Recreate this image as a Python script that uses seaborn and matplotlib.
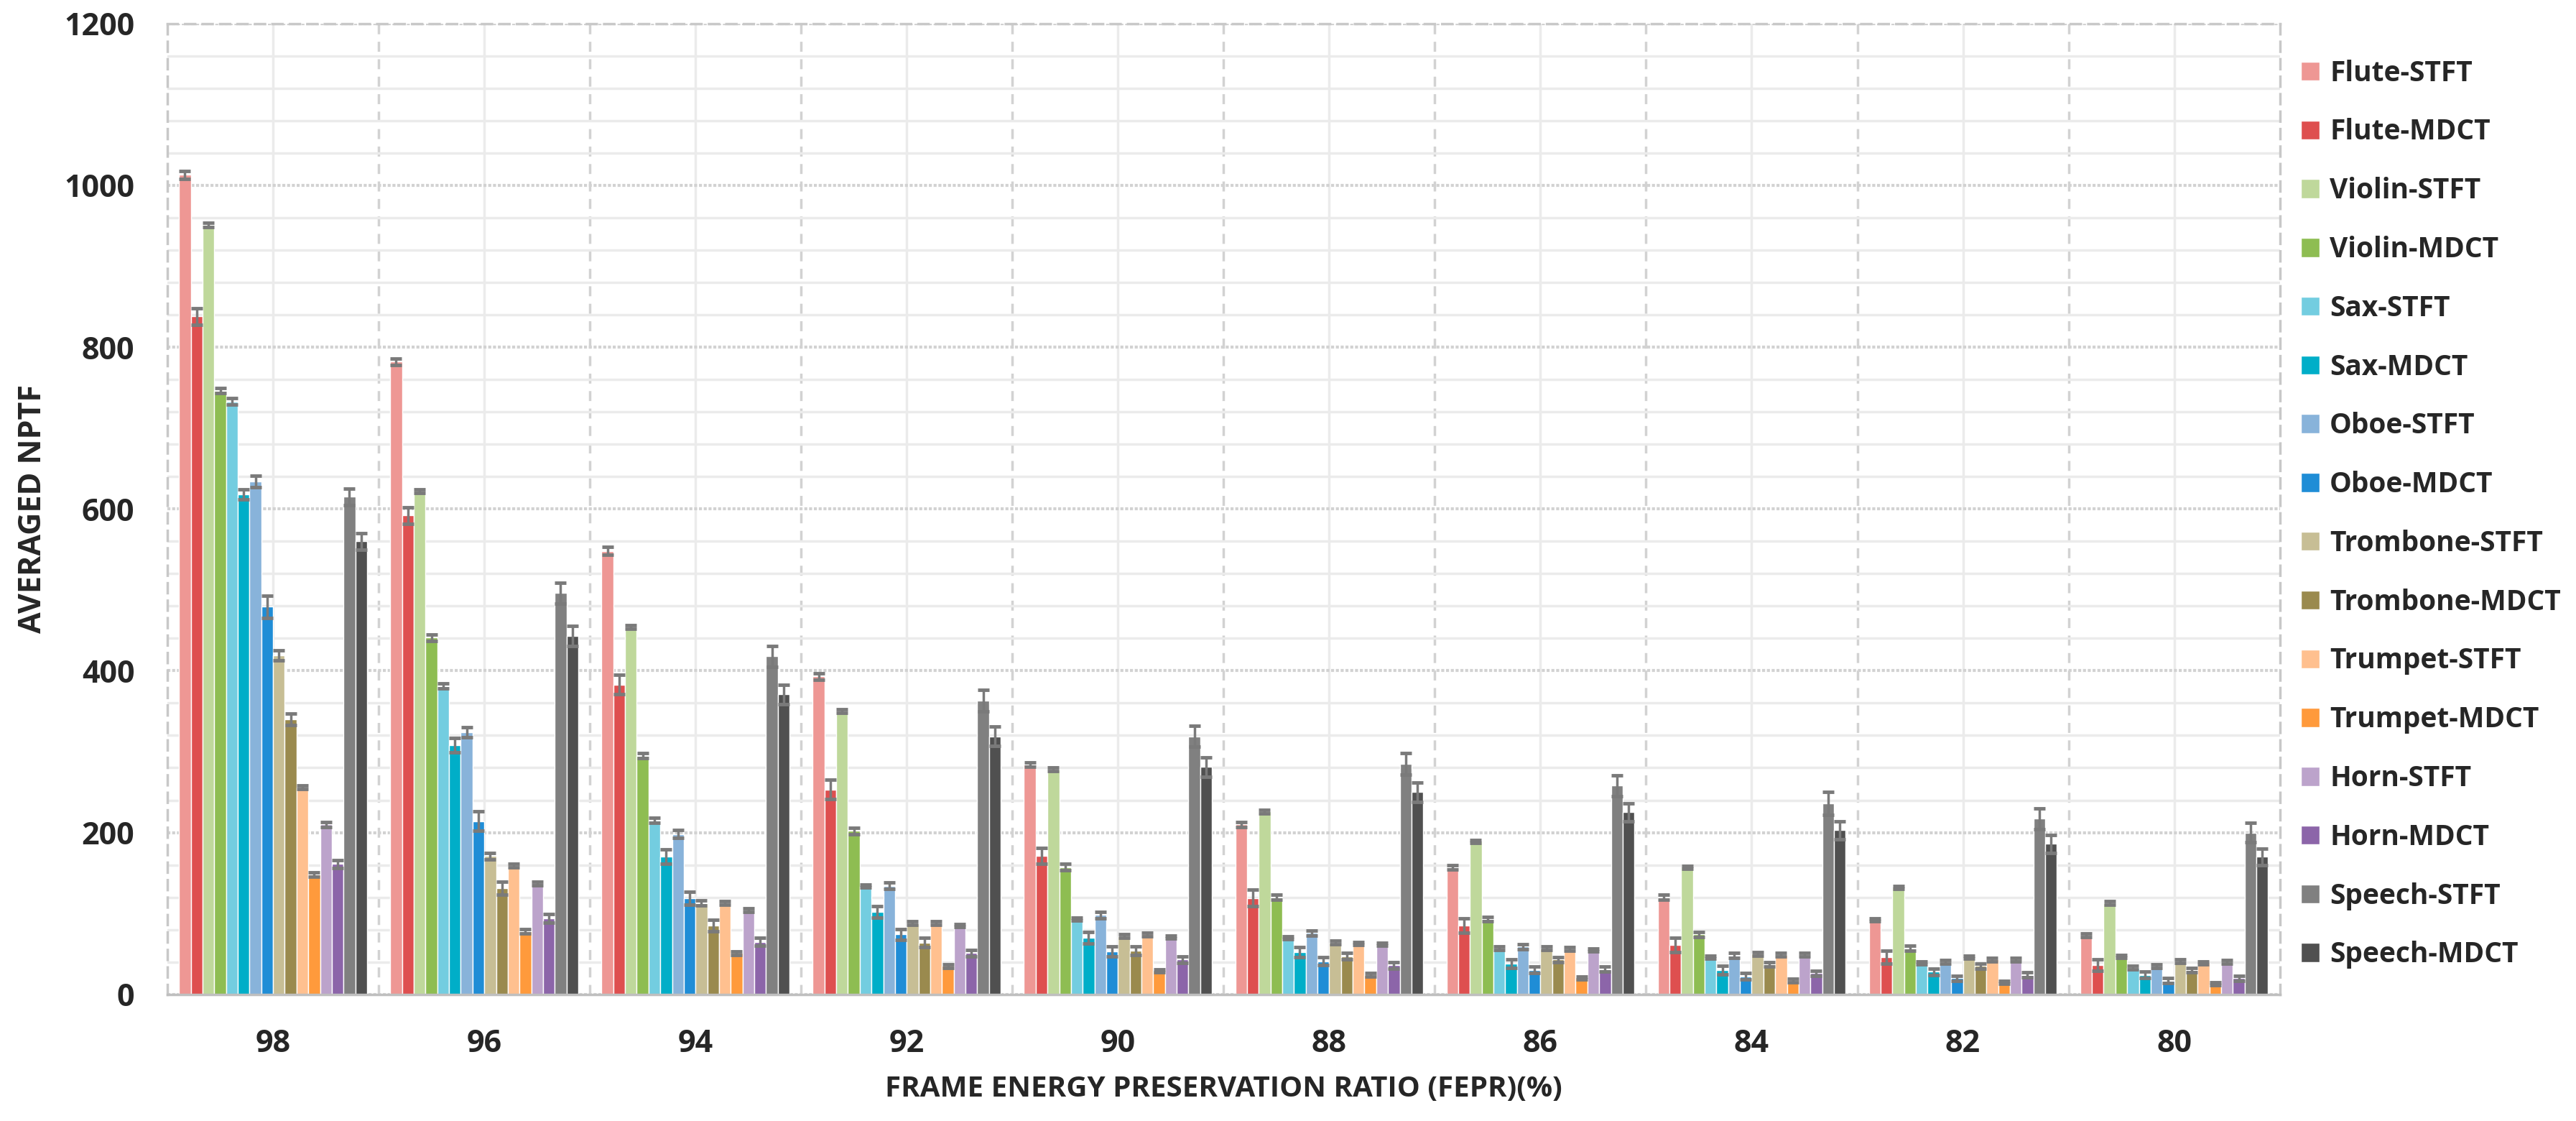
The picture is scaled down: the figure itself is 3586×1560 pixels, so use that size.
import pandas as pd
import seaborn as sns
import matplotlib.pyplot as plt
from matplotlib.ticker import MultipleLocator

# FEPR groups (x axis)
fepr = ['98', '96', '94', '92', '90', '88', '86', '84', '82', '80']

series = ['Flute-STFT', 'Flute-MDCT', 'Violin-STFT', 'Violin-MDCT',
          'Sax-STFT', 'Sax-MDCT', 'Oboe-STFT', 'Oboe-MDCT',
          'Trombone-STFT', 'Trombone-MDCT', 'Trumpet-STFT', 'Trumpet-MDCT',
          'Horn-STFT', 'Horn-MDCT', 'Speech-STFT', 'Speech-MDCT']

colors = ['#EE9794', '#DE4F4F', '#BFD89B', '#8EBD52',
          '#73CDE0', '#00AEC8', '#88B3DA', '#1F8DD6',
          '#C7BE95', '#9A8A4E', '#FFC08F', '#FF9A3C',
          '#BCA3CB', '#8C65A9', '#808080', '#505050']

# averaged NPTF per series
flute_stft = [1013, 782, 548, 393, 284, 210, 157, 120, 92, 73]
flute_mdct = [838, 592, 383, 253, 171, 119, 85, 61, 46, 36]
violin_stft = [951, 622, 454, 350, 278, 226, 189, 157, 132, 113]
violin_mdct = [746, 441, 295, 202, 157, 120, 93, 74, 57, 47]
sax_stft = [733, 381, 215, 134, 93, 70, 57, 46, 39, 33]
sax_mdct = [618, 308, 170, 102, 70, 52, 38, 30, 28, 24]
oboe_stft = [634, 324, 198, 134, 98, 76, 59, 48, 40, 35]
oboe_mdct = [479, 214, 119, 74, 53, 41, 30, 22, 20, 17]
trombone_stft = [419, 171, 113, 88, 72, 64, 57, 50, 46, 41]
trombone_mdct = [340, 131, 85, 64, 54, 47, 43, 37, 35, 30]
trumpet_stft = [256, 159, 113, 88, 74, 63, 56, 49, 43, 39]
trumpet_mdct = [148, 78, 51, 35, 29, 24, 20, 17, 15, 13]
horn_stft = [210, 137, 104, 85, 71, 62, 55, 49, 43, 40]
horn_mdct = [161, 94, 65, 51, 43, 36, 31, 26, 24, 20]
speech_stft = [615, 496, 418, 363, 319, 285, 258, 236, 217, 200]
speech_mdct = [560, 443, 371, 319, 281, 250, 225, 203, 186, 170]

# error bar half widths
err_flute_stft = [5, 4, 5, 4, 3, 3, 3, 3, 2, 2]
err_flute_mdct = [10, 10, 12, 12, 10, 10, 9, 9, 8, 7]
err_violin_stft = [3, 2, 2, 2, 2, 2, 2, 2, 2, 2]
err_violin_mdct = [3, 4, 3, 4, 4, 3, 3, 3, 3, 2]
err_sax_stft = [4, 3, 3, 2, 2, 2, 2, 2, 2, 2]
err_sax_mdct = [6, 9, 9, 7, 7, 6, 5, 5, 4, 4]
err_oboe_stft = [7, 6, 5, 4, 4, 3, 3, 3, 2, 2]
err_oboe_mdct = [14, 12, 8, 7, 6, 5, 4, 4, 3, 3]
err_trombone_stft = [6, 4, 3, 2, 2, 2, 2, 2, 2, 2]
err_trombone_mdct = [7, 8, 7, 6, 5, 4, 3, 3, 3, 3]
err_trumpet_stft = [2, 2, 2, 2, 2, 2, 2, 2, 2, 2]
err_trumpet_mdct = [3, 3, 2, 2, 2, 2, 2, 2, 2, 2]
err_horn_stft = [3, 2, 2, 2, 2, 2, 2, 2, 2, 2]
err_horn_mdct = [5, 5, 5, 4, 4, 4, 3, 3, 3, 3]
err_speech_stft = [10, 13, 13, 13, 13, 13, 13, 14, 13, 12]
err_speech_mdct = [10, 12, 12, 12, 12, 12, 11, 11, 11, 10]

values = [flute_stft, flute_mdct, violin_stft, violin_mdct, sax_stft, sax_mdct,
          oboe_stft, oboe_mdct, trombone_stft, trombone_mdct, trumpet_stft,
          trumpet_mdct, horn_stft, horn_mdct, speech_stft, speech_mdct]
errors = [err_flute_stft, err_flute_mdct, err_violin_stft, err_violin_mdct,
          err_sax_stft, err_sax_mdct, err_oboe_stft, err_oboe_mdct,
          err_trombone_stft, err_trombone_mdct, err_trumpet_stft,
          err_trumpet_mdct, err_horn_stft, err_horn_mdct, err_speech_stft,
          err_speech_mdct]

rows = []
for name, vals, errs in zip(series, values, errors):
    for g, v, e in zip(fepr, vals, errs):
        rows.append({'FEPR': g, 'Series': name, 'NPTF': v, 'err': e})
df = pd.DataFrame(rows)

sns.set_style('white')
plt.rcParams['font.family'] = ['Open Sans', 'DejaVu Sans']
plt.rcParams['font.weight'] = 'bold'

fig, ax = plt.subplots(figsize=(35.86, 15.6), dpi=100)
fig.subplots_adjust(left=0.065, right=0.885, top=0.979, bottom=0.113)

sns.barplot(data=df, x='FEPR', y='NPTF', hue='Series', order=fepr,
            hue_order=series, palette=colors, errorbar=None, width=0.89,
            saturation=1, ax=ax)

# error bars on top of each bar
for name, cont in zip(series, ax.containers):
    sub = df[df['Series'] == name].set_index('FEPR')
    xs, ys, es = [], [], []
    for bar in cont:
        cx = bar.get_x() + bar.get_width() / 2
        gi = int(round(cx))
        xs.append(cx)
        ys.append(bar.get_height())
        es.append(sub.loc[fepr[gi], 'err'])
    ax.errorbar(xs, ys, yerr=es, fmt='none', ecolor='#7a7a7a',
                elinewidth=2.5, capsize=6, capthick=3.5, zorder=3)

ax.set_ylim(0, 1200)
ax.set_xlim(-0.5, len(fepr) - 0.5)
ax.yaxis.set_major_locator(MultipleLocator(200))
ax.yaxis.set_minor_locator(MultipleLocator(40))
ax.grid(axis='y', which='major', color='#d2d2d2', lw=3, ls=(0, (1, 0.6)))
ax.grid(axis='y', which='minor', color='#ebebeb', lw=2.5)
ax.grid(axis='x', which='major', color='#ebebeb', lw=2.5)
for b in range(1, len(fepr)):
    ax.axvline(b - 0.5, color='#d2d2d2', lw=2.5, ls=(0, (4, 3)), zorder=0)
ax.set_axisbelow(True)

for s in ['left', 'top', 'right']:
    ax.spines[s].set_color('#c8c8c8')
    ax.spines[s].set_linestyle((0, (4, 3)))
    ax.spines[s].set_linewidth(2.5)
ax.spines['bottom'].set_color('#bfbfbf')
ax.spines['bottom'].set_linewidth(2.5)

ax.tick_params(axis='y', which='both', length=0, labelsize=31, pad=33)
ax.tick_params(axis='x', which='both', length=0, labelsize=31, pad=34)
for lab in ax.get_xticklabels() + ax.get_yticklabels():
    lab.set_fontweight('bold')
ax.set_xlabel('FRAME ENERGY PRESERVATION RATIO (FEPR)(%)', fontsize=29,
              fontweight='bold', labelpad=16)
ax.set_ylabel('AVERAGED NPTF', fontsize=31, fontweight='bold', labelpad=16)

handles, labels = ax.get_legend_handles_labels()
ax.legend_.remove()
fig.legend(handles, labels, loc='upper left', bbox_to_anchor=(0.8932, 0.947),
           frameon=False, handlelength=0.67, handleheight=0.67,
           handletextpad=0.36, labelspacing=1.1, borderpad=0,
           borderaxespad=0, prop={'weight': 'bold', 'size': 28})

plt.savefig('out.png', dpi=100)
